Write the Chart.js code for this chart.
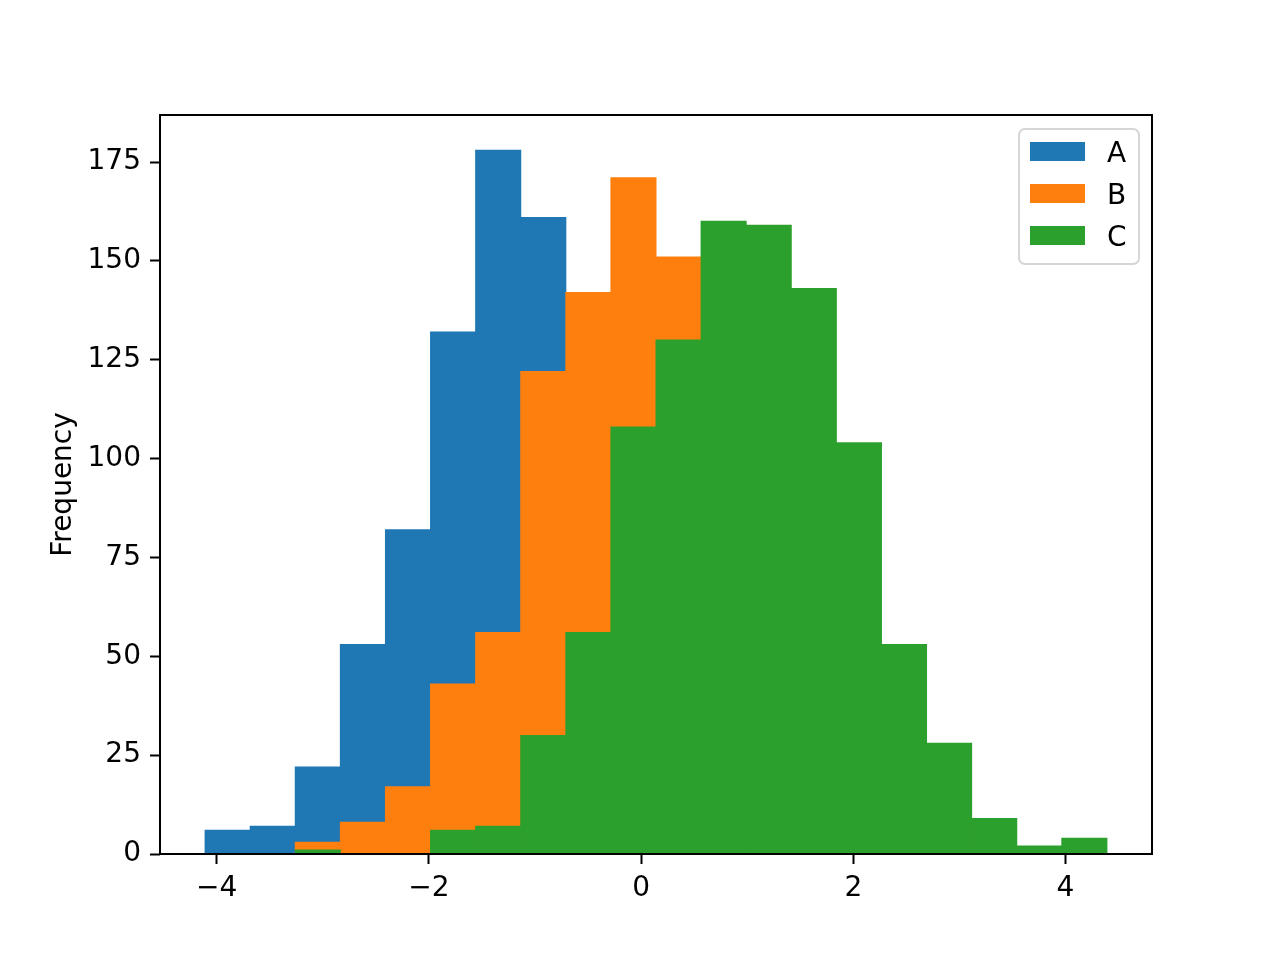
<!DOCTYPE html>
<html>
<head>
<meta charset="utf-8">
<script src="https://cdn.jsdelivr.net/npm/chart.js@4/dist/chart.umd.min.js"></script>
<style>
  html, body { margin: 0; padding: 0; background: #fff; }
  #wrap { width: 1280px; height: 960px; }
</style>
</head>
<body>
<div id="wrap"><canvas id="hist" width="1280" height="960"></canvas></div>
<script>
// bin edges shared by all three columns (20 bins)
const binEdges = [-4.11, -3.685, -3.26, -2.835, -2.41, -1.985, -1.56, -1.135, -0.71, -0.285,
                  0.14, 0.565, 0.99, 1.415, 1.84, 2.265, 2.69, 3.115, 3.54, 3.965, 4.39];

// counts per bin (hidden parts estimated)
const countsA = [6, 7, 22, 53, 82, 132, 178, 161, 120, 100, 65, 40, 20, 10, 3, 1, 0, 0, 0, 0];
const countsB = [0, 0, 3, 8, 17, 43, 56, 122, 142, 171, 151, 125, 80, 45, 22, 10, 4, 1, 0, 0];
const countsC = [0, 0, 1, 0, 0, 6, 7, 30, 56, 108, 130, 160, 159, 143, 104, 53, 28, 9, 2, 4];

const seriesNames = ['A', 'B', 'C'];
const seriesColors = ['#1f77b4', '#ff7f0e', '#2ca02c'];

const xTicks = [-4, -2, 0, 2, 4];
const yTicks = [0, 25, 50, 75, 100, 125, 150, 175];

// x/y limits like matplotlib's 5% margins
const xMin = -4.535, xMax = 4.815;
const yMax = 186.9;

Chart.defaults.font.family = 'DejaVu Sans';
Chart.defaults.font.size = 28;
Chart.defaults.color = '#000';

function binPoints(counts) {
    let pts = [];
    for (let i = 0; i < counts.length; i++) {
        pts.push({ x: (binEdges[i] + binEdges[i + 1]) / 2, y: counts[i] });
    }
    return pts;
}

function fmtTick(v) {
    return v < 0 ? '\u2212' + Math.abs(v) : String(v);
}

// matplotlib style frame around the axes
const framePlugin = {
    id: 'frame',
    afterDatasetsDraw(chart) {
        const a = chart.chartArea;
        const ctx = chart.ctx;
        ctx.save();
        ctx.strokeStyle = '#000';
        ctx.lineWidth = 2;
        ctx.strokeRect(a.left, a.top, a.right - a.left, a.bottom - a.top);
        ctx.restore();
    }
};

// legend box in upper right corner of the axes
const boxLegend = {
    id: 'boxLegend',
    afterDraw(chart) {
        const ctx = chart.ctx;
        const a = chart.chartArea;
        const bx = a.right - 133, by = a.top + 14, bw = 120, bh = 135;
        ctx.save();
        ctx.beginPath();
        ctx.roundRect(bx, by, bw, bh, 6);
        ctx.fillStyle = 'rgba(255,255,255,0.8)';
        ctx.fill();
        ctx.strokeStyle = '#d6d6d6';
        ctx.lineWidth = 2;
        ctx.stroke();
        ctx.textBaseline = 'middle';
        ctx.textAlign = 'left';
        ctx.font = '28px "DejaVu Sans"';
        chart.data.datasets.forEach((ds, i) => {
            const cy = by + 23 + i * 42;
            ctx.fillStyle = ds.backgroundColor;
            ctx.fillRect(bx + 11, cy - 10, 55, 19);
            ctx.fillStyle = '#000';
            ctx.fillText(ds.label, bx + 88, cy + 3);
        });
        ctx.restore();
    }
};

const allCounts = [countsA, countsB, countsC];

new Chart(document.getElementById('hist'), {
    type: 'bar',
    data: {
        datasets: allCounts.map((c, i) => ({
            label: seriesNames[i],
            data: binPoints(c),
            backgroundColor: seriesColors[i],
            borderWidth: 0,
            inflateAmount: 0.5,
            barPercentage: 1,
            categoryPercentage: 1,
            grouped: false,
            order: 3 - i
        }))
    },
    options: {
        responsive: false,
        animation: false,
        layout: { padding: { top: 115, right: 128, bottom: 0, left: 0 } },
        plugins: {
            legend: { display: false },
            tooltip: { enabled: false }
        },
        scales: {
            x: {
                type: 'linear',
                min: xMin,
                max: xMax,
                offset: false,
                afterBuildTicks: s => { s.ticks = xTicks.map(v => ({ value: v })); },
                afterFit: s => { s.height = 106; },
                grid: { offset: false, drawOnChartArea: false, tickLength: 10, tickWidth: 2, tickColor: '#000' },
                border: { display: false },
                ticks: { padding: 8, maxRotation: 0, callback: v => fmtTick(v) }
            },
            y: {
                min: 0,
                max: yMax,
                afterBuildTicks: s => { s.ticks = yTicks.map(v => ({ value: v })); },
                afterFit: s => { s.width = 160; },
                grid: { drawOnChartArea: false, tickLength: 10, tickWidth: 2, tickColor: '#000' },
                border: { display: false },
                ticks: { padding: 9, callback: v => fmtTick(v) },
                title: { display: true, text: 'Frequency', padding: { top: 47, bottom: 0 } }
            }
        }
    },
    plugins: [framePlugin, boxLegend]
});
</script>
</body>
</html>
